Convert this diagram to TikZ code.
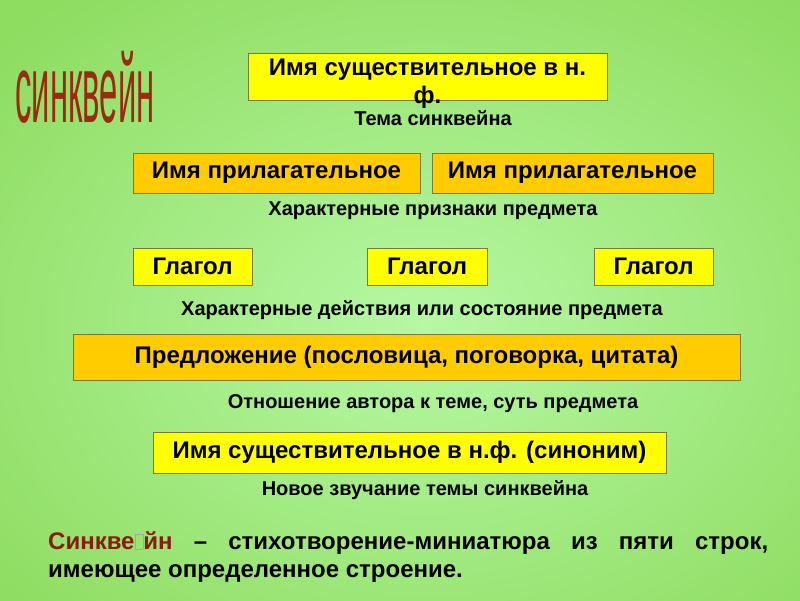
\documentclass[tikz,border=0pt]{standalone}
\usepackage{fontspec}
\setmainfont{Liberation Sans}
\usetikzlibrary{shadings}
\definecolor{bgout}{HTML}{8EDC60}
\definecolor{bgin}{HTML}{B6F8A4}
\definecolor{ylw}{HTML}{FFFF00}
\definecolor{org}{HTML}{FFCC00}
\definecolor{boxline}{HTML}{7A7A3A}
\definecolor{dred}{HTML}{8B1A10}
\definecolor{tred}{HTML}{9A2A12}
\begin{document}
\begin{tikzpicture}[x=1pt,y=-1pt,
  ybox/.style={draw=boxline, line width=0.9pt, fill=ylw, inner sep=0pt},
  obox/.style={draw=boxline, line width=0.9pt, fill=org, inner sep=0pt},
  btxt/.style={font=\bfseries\fontsize{24}{29}\selectfont},
  lbl/.style={font=\bfseries\fontsize{20}{22}\selectfont, inner sep=0pt},
  body/.style={font=\bfseries\fontsize{24}{28}\selectfont, inner sep=0pt}]
\useasboundingbox (0,0) rectangle (800,600);
\shade[inner color=bgin, outer color=bgout] (-150,-100) rectangle (1000,750);
% title
\node[font=\fontsize{40}{40}\selectfont, text=tred, xscale=0.82, yscale=2.4, inner sep=0pt] (title) at (85,87) {синквейн};
% row 1
\node[ybox, minimum width=359pt, minimum height=47pt] (n1) at (427.5,76.5) {};
\node[btxt, align=center, inner sep=0pt, font=\bfseries\fontsize{24}{28}\selectfont] (t1) at (427.5,83.5) {Имя существительное в н.\\ф.};
\node[lbl] (l1) at (433,118) {Тема синквейна};
% row 2
\node[obox, minimum width=287pt, minimum height=40pt, btxt] (a1) at (276.5,173) {Имя прилагательное};
\node[obox, minimum width=281pt, minimum height=40pt, btxt] (a2) at (572.5,173) {Имя прилагательное};
\node[lbl] (l2) at (433,211) {Характерные признаки предмета};
% row 3
\node[ybox, minimum width=119pt, minimum height=37pt, btxt] (g1) at (192.5,266.5) {Глагол};
\node[ybox, minimum width=120pt, minimum height=37pt, btxt] (g2) at (427,266.5) {Глагол};
\node[ybox, minimum width=119pt, minimum height=37pt, btxt] (g3) at (653.5,266.5) {Глагол};
\node[lbl] (l3) at (422,310) {Характерные действия или состояние предмета};
% row 4
\node[obox, minimum width=667pt, minimum height=46pt, btxt] (p) at (406.5,357) {Предложение (пословица, поговорка, цитата)};
\node[lbl] (l4) at (433,404) {Отношение автора к теме, суть предмета};
% row 5
\node[ybox, minimum width=513pt, minimum height=41pt, btxt] (s) at (409.5,452.5) {Имя существительное в н.ф. (синоним)};
\node[lbl] (l5) at (425,490) {Новое звучание темы синквейна};
% bottom text
\node[body, anchor=north west, text width=720pt, align=justify] (def) at (48,531)
  {\textcolor{dred}{Синкве{\fboxsep=0pt\fboxrule=0.4pt\color{black!35}\fbox{\phantom{\rule{8pt}{15pt}}}}йн} – стихотворение-миниатюра из пяти строк, имеющее определенное строение.};
\end{tikzpicture}
\end{document}
